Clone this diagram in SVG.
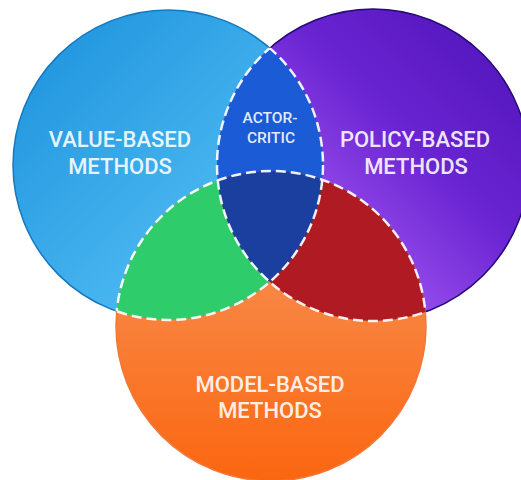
<svg xmlns="http://www.w3.org/2000/svg" width="521" height="480" viewBox="0 0 521 480">
  <defs>
    <linearGradient id="gBlue" x1="0" y1="0" x2="1" y2="1">
      <stop offset="0" stop-color="#1a90dc"/>
      <stop offset="0.6" stop-color="#45b3ee"/>
      <stop offset="1" stop-color="#5cc2f2"/>
    </linearGradient>
    <linearGradient id="gPurple" x1="0" y1="1" x2="1" y2="0">
      <stop offset="0" stop-color="#8a40e6"/>
      <stop offset="0.35" stop-color="#934aea"/>
      <stop offset="0.6" stop-color="#6a24d2"/>
      <stop offset="1" stop-color="#4c12b6"/>
    </linearGradient>
    <linearGradient id="gOrange" x1="0" y1="0" x2="0" y2="1">
      <stop offset="0" stop-color="#f69a62"/>
      <stop offset="1" stop-color="#fb6610"/>
    </linearGradient>

    <!-- circle shapes used as clips -->
    <clipPath id="inBlue"><circle cx="168" cy="165" r="155"/></clipPath>
    <clipPath id="inPurple"><circle cx="373" cy="165" r="156"/></clipPath>
    <clipPath id="notBlue">
      <circle cx="373" cy="165" r="156"/>
      <circle cx="271" cy="326" r="155"/>
    </clipPath>
    <clipPath id="notPurple">
      <circle cx="168" cy="165" r="155"/>
      <circle cx="271" cy="326" r="155"/>
    </clipPath>
    <clipPath id="notOrange">
      <circle cx="168" cy="165" r="155"/>
      <circle cx="373" cy="165" r="156"/>
    </clipPath>

    <!-- masks keeping only the outer rim of each circle -->
    <mask id="rimBlue" maskUnits="userSpaceOnUse" x="0" y="0" width="521" height="480">
      <rect width="521" height="480" fill="#fff"/>
      <circle cx="373" cy="165" r="156" fill="#000"/>
      <circle cx="271" cy="326" r="155" fill="#000"/>
    </mask>
    <mask id="rimPurple" maskUnits="userSpaceOnUse" x="0" y="0" width="521" height="480">
      <rect width="521" height="480" fill="#fff"/>
      <circle cx="168" cy="165" r="155" fill="#000"/>
      <circle cx="271" cy="326" r="155" fill="#000"/>
    </mask>
    <mask id="rimOrange" maskUnits="userSpaceOnUse" x="0" y="0" width="521" height="480">
      <rect width="521" height="480" fill="#fff"/>
      <circle cx="168" cy="165" r="155" fill="#000"/>
      <circle cx="373" cy="165" r="156" fill="#000"/>
    </mask>
  </defs>
  <style>
    .lbl { font-family: Roboto, "Liberation Sans", Arial, sans-serif; font-weight: 500; fill: #ffffff; fill-opacity: 0.9; text-anchor: middle; }
    .big { font-size: 22px; }
    .small { font-size: 15.5px; }
    .dash { fill: none; stroke: #ffffff; stroke-opacity: 0.92; stroke-width: 2.5; stroke-dasharray: 10 5; }
  </style>

  <rect width="521" height="480" fill="#ffffff"/>

  <!-- base sets -->
  <g id="value-based">
    <circle cx="168" cy="165" r="155" fill="url(#gBlue)"/>
    <circle cx="168" cy="165" r="155" fill="none" stroke="#1577c0" stroke-width="1.5" mask="url(#rimBlue)"/>
  </g>
  <g id="policy-based">
    <circle cx="373" cy="165" r="156" fill="url(#gPurple)"/>
    <circle cx="373" cy="165" r="156" fill="none" stroke="#240a78" stroke-width="1.5" mask="url(#rimPurple)"/>
  </g>
  <g id="model-based">
    <circle cx="271" cy="326" r="155" fill="url(#gOrange)"/>
    <circle cx="271" cy="326" r="155" fill="none" stroke="#f2783a" stroke-width="1.5" mask="url(#rimOrange)"/>
  </g>

  <!-- overlaps -->
  <g id="actor-critic">
    <circle cx="373" cy="165" r="156" fill="#1b5bd6" clip-path="url(#inBlue)"/>
  </g>
  <g id="value-model">
    <circle cx="271" cy="326" r="155" fill="#2ecc6a" clip-path="url(#inBlue)"/>
  </g>
  <g id="policy-model">
    <circle cx="271" cy="326" r="155" fill="#b01a22" clip-path="url(#inPurple)"/>
  </g>
  <g id="all-three">
    <g clip-path="url(#inBlue)">
      <circle cx="271" cy="326" r="155" fill="#1b3f9e" clip-path="url(#inPurple)"/>
    </g>
  </g>

  <!-- dashed inner borders -->
  <g id="borders">
    <circle class="dash" cx="168" cy="165" r="155" clip-path="url(#notBlue)"/>
    <circle class="dash" cx="373" cy="165" r="156" clip-path="url(#notPurple)"/>
    <circle class="dash" cx="271" cy="326" r="155" clip-path="url(#notOrange)"/>
  </g>

  <!-- labels -->
  <g id="labels">
    <text class="lbl big" x="120" y="147">VALUE-BASED</text>
    <text class="lbl big" x="120" y="174">METHODS</text>
    <text class="lbl big" x="415" y="147">POLICY-BASED</text>
    <text class="lbl big" x="416" y="174">METHODS</text>
    <text class="lbl big" x="270" y="392">MODEL-BASED</text>
    <text class="lbl big" x="270" y="418">METHODS</text>
    <text class="lbl small" x="270" y="123">ACTOR-</text>
    <text class="lbl small" x="271" y="143">CRITIC</text>
  </g>
</svg>
